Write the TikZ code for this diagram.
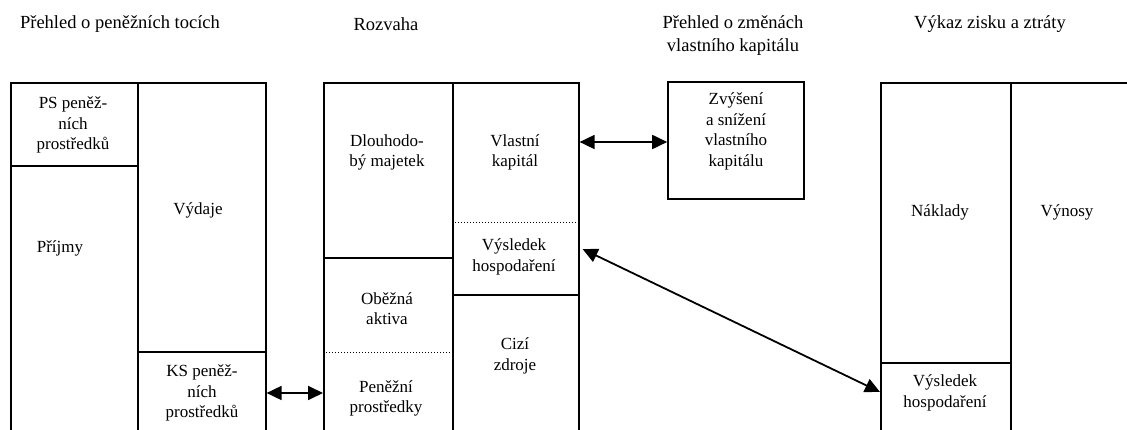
\documentclass[tikz,border=0pt]{standalone}
\usepackage{fontspec}
\setmainfont{Liberation Serif}
\usetikzlibrary{arrows.meta}
\begin{document}
\begin{tikzpicture}[x=1pt,y=-1pt,
  box/.style={draw,line width=1.6pt,inner sep=0pt,anchor=north west},
  lbl/.style={align=center,inner sep=0pt,font=\fontsize{17}{20.5}\selectfont},
  ttl/.style={align=center,inner sep=0pt,font=\fontsize{18.5}{23}\selectfont},
  dotline/.style={line width=0.9pt,dash pattern=on 1.3pt off 1.7pt},
  dbl/.style={line width=1.8pt,{Triangle[length=15pt,width=14pt]}-{Triangle[length=15pt,width=14pt]}}]
\useasboundingbox[fill=white] (0,0) rectangle (1127,430);
% titles
\node[ttl] (t1) at (120,24) {Přehled o peněžních tocích};
\node[ttl] (t2) at (386,24) {Rozvaha};
\node[ttl] (t3) at (733,35.5) {Přehled o změnách\\vlastního kapitálu};
\node[ttl] (t4) at (990,24) {Výkaz zisku a ztráty};
% cash flow
\node[box,minimum width=127pt,minimum height=83pt] (psb) at (10,82) {};
\node[box,minimum width=127pt,minimum height=280pt] (prb) at (10,165) {};
\node[box,minimum width=128pt,minimum height=269pt] (vyb) at (137,82) {};
\node[box,minimum width=128pt,minimum height=94pt] (ksb) at (137,351) {};
\node[lbl] (ps) at (73,125) {PS peněž-\\ních\\prostředků};
\node[lbl] (prijmy) at (60,248) {Příjmy};
\node[lbl] (vydaje) at (198,210) {Výdaje};
\node[lbl] (ks) at (202,393) {KS peněž-\\ních\\prostředků};
% balance sheet
\node[box,minimum width=129pt,minimum height=175pt] (dmb) at (323,82) {};
\node[box,minimum width=129pt,minimum height=188pt] (oab) at (323,257) {};
\node[box,minimum width=126pt,minimum height=212pt] (vkb) at (452,82) {};
\node[box,minimum width=126pt,minimum height=151pt] (czb) at (452,294) {};
\coordinate (d1) at (0,352);
\coordinate (d2) at (0,222);
\draw[dotline] (oab.west |- d1) -- (oab.east |- d1);
\draw[dotline] (vkb.west |- d2) -- (vkb.east |- d2);
\node[lbl] (dm) at (387,152.5) {Dlouhodo-\\bý majetek};
\node[lbl] (vk) at (515,152.5) {Vlastní\\kapitál};
\node[lbl] (vh) at (514,257) {Výsledek\\hospodaření};
\node[lbl] (oa) at (387,308.5) {Oběžná\\aktiva};
\node[lbl] (cz) at (515,356) {Cizí\\zdroje};
\node[lbl] (pp) at (386,398.5) {Peněžní\\prostředky};
% equity
\node[box,anchor=center,minimum width=136pt,minimum height=117pt] (eq) at (736,140.5) {};
\node[lbl] (eqt) at (736,131.5) {Zvýšení\\a snížení\\vlastního\\kapitálu};
% income statement
\node[box,minimum width=130pt,minimum height=280pt] (nkb) at (880,82) {};
\node[box,minimum width=130pt,minimum height=83pt] (hvb) at (880,362) {};
\node[box,minimum width=130pt,minimum height=363pt] (vnb) at (1010,82) {};
\node[lbl] (nak) at (940,212) {Náklady};
\node[lbl] (vyn) at (1067,212) {Výnosy};
\node[lbl] (vh2) at (945,393) {Výsledek\\hospodaření};
% connectors
\coordinate (r1) at (0,393);
\coordinate (r2) at (0,142);
\coordinate (r3) at (0,249);
\coordinate (r4) at (0,392);
\draw[dbl] (ksb.east |- r1) -- (oab.west |- r1);
\draw[dbl] (vkb.east |- r2) -- (eq.west |- r2);
\draw[dbl] ([xshift=3pt]vkb.east |- r3) -- (hvb.west |- r4);
\end{tikzpicture}
\end{document}
